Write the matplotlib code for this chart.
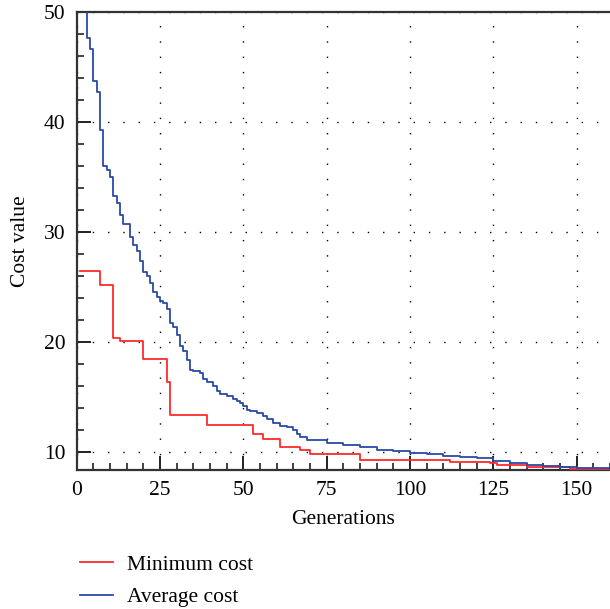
import matplotlib
matplotlib.use("Agg")
import matplotlib.pyplot as plt
from matplotlib.ticker import MultipleLocator

# step breakpoints (generation where the value changes)
min_gens = [1, 7, 11, 13, 20, 27, 28, 39, 53, 56, 61, 67, 70, 85, 112, 124, 126, 135, 148, 160]
min_cost = [26.5, 25.2, 20.4, 20.1, 18.5, 16.4, 13.4, 12.5, 11.7, 11.2, 10.45, 10.2, 9.85,
            9.3, 9.15, 9.0, 8.9, 8.63, 8.48, 8.48]

avg_gens = [1, 3, 4, 5, 6, 7, 8, 9, 10, 11, 12, 13, 14, 16, 17, 18, 19, 20, 21, 22, 23, 24,
            25, 26, 27, 28, 29, 30, 31, 32, 33, 34, 35, 37, 38, 39, 41, 42, 43, 45, 47, 48,
            49, 50, 51, 52, 54, 56, 57, 59, 61, 63, 65, 66, 67, 69, 75, 80, 85, 90, 95, 100,
            105, 110, 115, 120, 125, 130, 135, 140, 145, 150, 155, 160]
avg_cost = [55.0, 47.7, 46.7, 43.8, 42.8, 39.3, 36.0, 35.7, 35.0, 33.3, 32.7, 31.6, 30.8,
            29.6, 28.9, 28.3, 27.4, 26.4, 26.0, 25.45, 24.6, 24.1, 23.8, 23.6, 23.0, 21.8,
            21.4, 20.7, 19.7, 19.2, 18.4, 17.5, 17.4, 17.2, 16.7, 16.4, 16.0, 15.6, 15.3,
            15.1, 14.9, 14.7, 14.5, 14.2, 13.9, 13.8, 13.6, 13.3, 13.0, 12.7, 12.4, 12.3,
            12.0, 11.7, 11.4, 11.1, 10.85, 10.65, 10.45, 10.25, 10.1, 9.95, 9.85, 9.7, 9.55,
            9.45, 9.25, 9.05, 8.9, 8.8, 8.68, 8.6, 8.55, 8.5]

x_ticks = [0, 25, 50, 75, 100, 125, 150]
y_ticks = [10, 20, 30, 40, 50]

plt.rcParams["font.family"] = ["Liberation Serif", "DejaVu Serif"]
plt.rcParams["font.size"] = 15.5

fig = plt.figure(figsize=(6.1, 6.09), dpi=100)
ax = fig.add_axes([0.1257, 0.2282, 0.8743, 0.7513])

ax.plot(min_gens, min_cost, drawstyle="steps-post", color="#ff2a2a", lw=1.3,
        label="Minimum cost", zorder=3)
ax.plot(avg_gens, avg_cost, drawstyle="steps-post", color="#2a4aa8", lw=1.3,
        label="Average cost", zorder=4)

ax.set_xlim(0, 160)
ax.set_ylim(8.4, 50)
ax.set_xticks(x_ticks)
ax.set_yticks(y_ticks)
ax.xaxis.set_minor_locator(MultipleLocator(5))
ax.yaxis.set_minor_locator(MultipleLocator(2))
ax.tick_params(which="major", direction="in", length=10, width=1.4, color="#222222",
               top=False, right=False, pad=8)
ax.tick_params(which="minor", direction="in", length=5, width=1.2, color="#222222",
               top=False, right=False)
ax.grid(True, which="major", color="black", lw=1.0, linestyle=(0, (1, 10)))

for side in ("left", "bottom", "top"):
    ax.spines[side].set_color("#333333")
    ax.spines[side].set_linewidth(1.6)
ax.spines["right"].set_visible(False)

ax.set_xlabel("Generations", labelpad=7)
ax.set_ylabel("Cost value", labelpad=10)

fig.legend(loc="upper left", bbox_to_anchor=(0.131, 0.089), frameon=False,
           handlelength=1.55, handletextpad=0.65, labelspacing=0.58, borderaxespad=0,
           borderpad=0)

fig.savefig("out.png", dpi=100)
